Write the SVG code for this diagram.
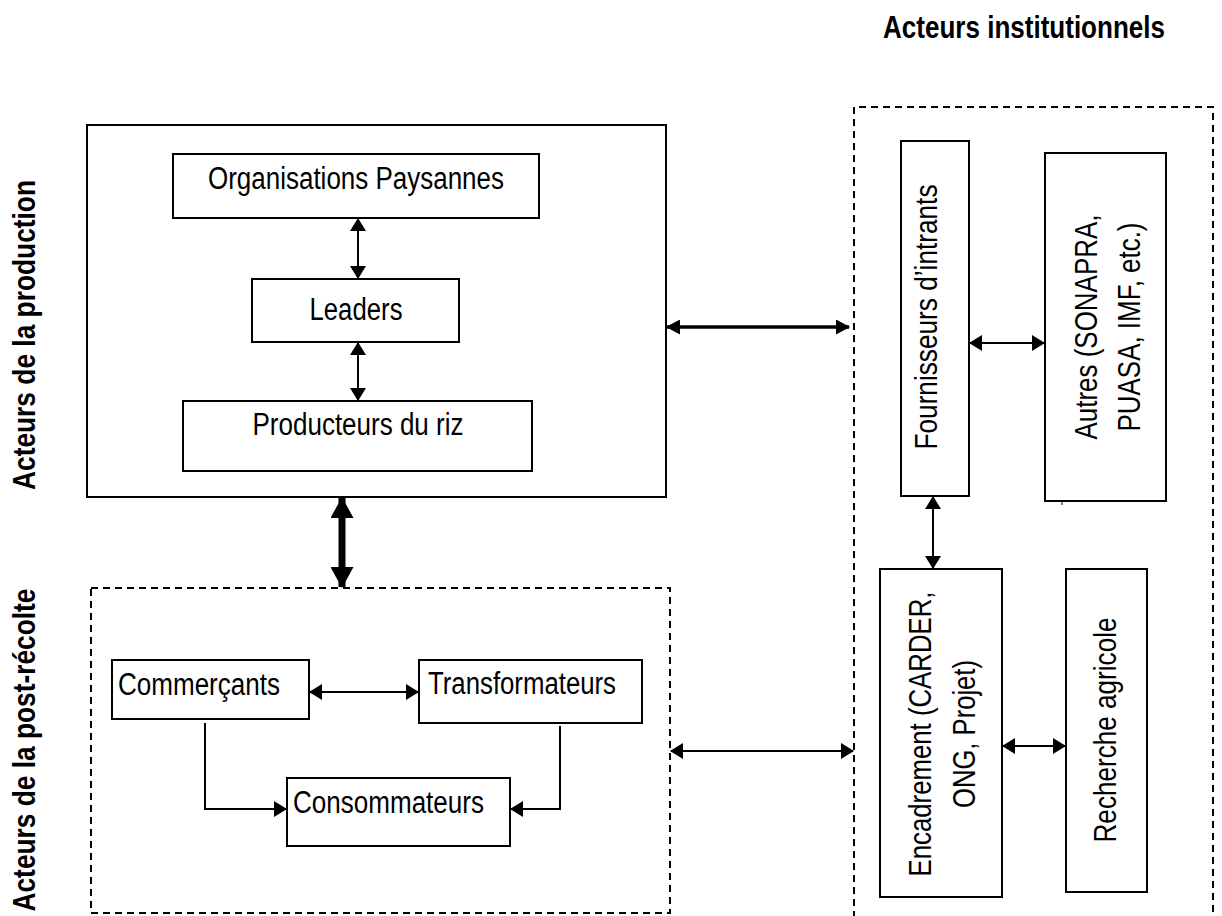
<svg xmlns="http://www.w3.org/2000/svg" width="1222" height="916" viewBox="0 0 1222 916">
<style>
.box{fill:#fff;stroke:#000;stroke-width:2}
.dash{fill:none;stroke:#000;stroke-width:2;stroke-dasharray:7 5}
.t{font-family:"Liberation Sans Narrow","Liberation Sans",Arial,sans-serif;font-size:31px;fill:#000}
.b{font-family:"Liberation Sans Narrow","Liberation Sans",Arial,sans-serif;font-size:31px;font-weight:bold;fill:#000}
.c{fill:none;stroke:#000;stroke-width:2}
</style>
<defs>
<marker id="ah" viewBox="0 0 13 16" refX="12" refY="8" markerWidth="13" markerHeight="16" markerUnits="userSpaceOnUse" orient="auto-start-reverse"><path d="M0,0 L13,8 L0,16 z" fill="#000"/></marker>
<marker id="ahm" viewBox="0 0 14 15" refX="13" refY="7.5" markerWidth="14" markerHeight="15" markerUnits="userSpaceOnUse" orient="auto-start-reverse"><path d="M0,0 L14,7.5 L0,15 z" fill="#000"/></marker>
<marker id="ahb" viewBox="0 0 21 23" refX="20" refY="11.5" markerWidth="21" markerHeight="23" markerUnits="userSpaceOnUse" orient="auto-start-reverse"><path d="M0,0 L21,11.5 L0,23 z" fill="#000"/></marker>
</defs>
<rect width="1222" height="916" fill="#fff"/>

<g id="label-institutionnels"><text class="b" x="883" y="38" textLength="282" lengthAdjust="spacingAndGlyphs">Acteurs institutionnels</text></g>
<g id="label-production"><text class="b" transform="translate(35,335) rotate(-90)" x="0" y="0" text-anchor="middle" textLength="310" lengthAdjust="spacingAndGlyphs">Acteurs de la production</text></g>
<g id="label-postrecolte"><text class="b" transform="translate(35,750) rotate(-90)" x="0" y="0" text-anchor="middle" textLength="323" lengthAdjust="spacingAndGlyphs">Acteurs de la post-récolte</text></g>

<g id="production-group"><rect class="box" x="87" y="125" width="579" height="372"/></g>
<g id="postrecolte-group"><rect class="dash" x="91" y="588" width="579" height="325"/></g>
<g id="institutionnels-group"><path class="dash" d="M854,930 V107 H1213 V930"/></g>

<g id="organisations"><rect class="box" x="173" y="154" width="366" height="64"/><text class="t" x="356" y="189" text-anchor="middle" textLength="296" lengthAdjust="spacingAndGlyphs">Organisations Paysannes</text></g>
<g id="leaders"><rect class="box" x="252" y="279" width="207" height="63"/><text class="t" x="356" y="320" text-anchor="middle" textLength="93" lengthAdjust="spacingAndGlyphs">Leaders</text></g>
<g id="producteurs"><rect class="box" x="183" y="401" width="349" height="70"/><text class="t" x="358" y="435" text-anchor="middle" textLength="211" lengthAdjust="spacingAndGlyphs">Producteurs du riz</text></g>

<g id="commercants"><rect class="box" x="112" y="660" width="197" height="59"/><text class="t" x="118" y="695" textLength="162" lengthAdjust="spacingAndGlyphs">Commerçants</text></g>
<g id="transformateurs"><rect class="box" x="419" y="660" width="223" height="63"/><text class="t" x="428" y="694" textLength="188" lengthAdjust="spacingAndGlyphs">Transformateurs</text></g>
<g id="consommateurs"><rect class="box" x="287" y="778" width="223" height="68"/><text class="t" x="293" y="813" textLength="191" lengthAdjust="spacingAndGlyphs">Consommateurs</text></g>

<g id="fournisseurs"><rect class="box" x="901" y="141" width="68" height="355"/><text class="t" transform="translate(937,317) rotate(-90)" text-anchor="middle" textLength="265" lengthAdjust="spacingAndGlyphs">Fournisseurs d’intrants</text></g>
<g id="autres"><rect class="box" x="1045" y="153" width="121" height="348"/><text class="t" transform="translate(1097,327) rotate(-90)" text-anchor="middle" textLength="225" lengthAdjust="spacingAndGlyphs">Autres (SONAPRA,</text><text class="t" transform="translate(1140,327) rotate(-90)" text-anchor="middle" textLength="209" lengthAdjust="spacingAndGlyphs">PUASA, IMF, etc.)</text><line x1="1062" y1="501" x2="1062" y2="505" stroke="#000" stroke-width="1"/></g>
<g id="encadrement"><rect class="box" x="880" y="569" width="122" height="328"/><text class="t" transform="translate(931,734) rotate(-90)" text-anchor="middle" textLength="285" lengthAdjust="spacingAndGlyphs">Encadrement (CARDER,</text><text class="t" transform="translate(975,734) rotate(-90)" text-anchor="middle" textLength="148" lengthAdjust="spacingAndGlyphs">ONG, Projet)</text></g>
<g id="recherche"><rect class="box" x="1066" y="569" width="81" height="323"/><text class="t" transform="translate(1116,730) rotate(-90)" text-anchor="middle" textLength="225" lengthAdjust="spacingAndGlyphs">Recherche agricole</text></g>

<g id="connectors">
<line class="c" x1="358" y1="219" x2="358" y2="278" marker-start="url(#ah)" marker-end="url(#ah)"/>
<line class="c" x1="358" y1="343" x2="358" y2="400" marker-start="url(#ah)" marker-end="url(#ah)"/>
<line x1="342" y1="498" x2="342" y2="587" stroke="#000" stroke-width="7" marker-start="url(#ahb)" marker-end="url(#ahb)"/>
<line x1="667" y1="327" x2="849" y2="327" stroke="#000" stroke-width="3.5" marker-start="url(#ahm)" marker-end="url(#ahm)"/>
<line class="c" x1="671" y1="751" x2="853" y2="751" marker-start="url(#ah)" marker-end="url(#ah)"/>
<line class="c" x1="310" y1="692" x2="418" y2="692" marker-start="url(#ah)" marker-end="url(#ah)"/>
<path class="c" d="M205,723 V809 H286" marker-end="url(#ah)"/>
<path class="c" d="M560,726 V809 H511" marker-end="url(#ah)"/>
<line class="c" x1="970" y1="343" x2="1044" y2="343" marker-start="url(#ah)" marker-end="url(#ah)"/>
<line class="c" x1="933" y1="497" x2="933" y2="568" marker-start="url(#ah)" marker-end="url(#ah)"/>
<line class="c" x1="1003" y1="746" x2="1065" y2="746" marker-start="url(#ah)" marker-end="url(#ah)"/>
</g>
</svg>
